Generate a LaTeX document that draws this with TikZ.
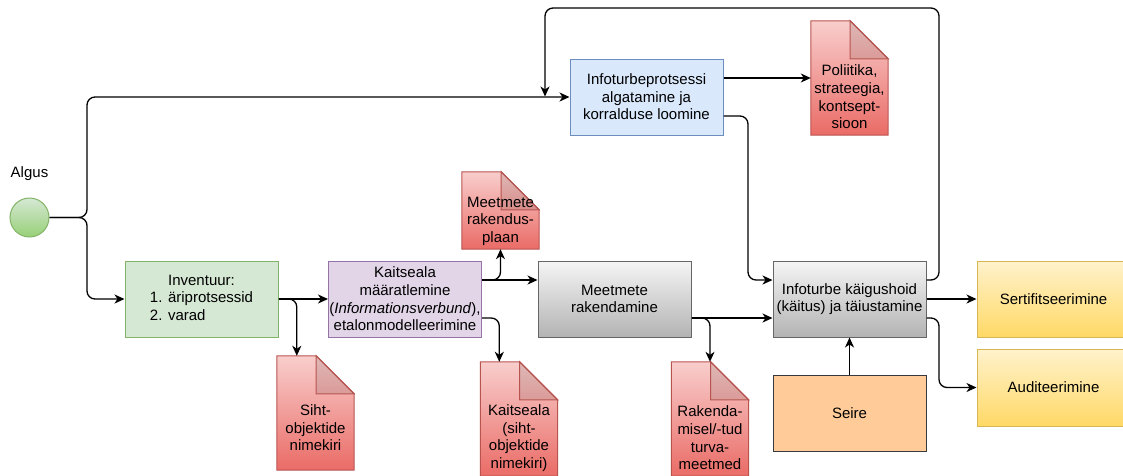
\documentclass[tikz,border=0pt]{standalone}
\usepackage{fontspec}
\setmainfont{Liberation Sans}
\usetikzlibrary{arrows.meta,backgrounds,calc}

\newcommand\boxfont{\fontsize{15}{17.6}\selectfont}

% colours of the flow chart
\definecolor{lineblack}{HTML}{000000}
\definecolor{blueF}{HTML}{DAE8FC}\definecolor{blueD}{HTML}{6C8EBF}
\definecolor{greenF}{HTML}{D5E8D4}\definecolor{greenD}{HTML}{82B366}\definecolor{greenB}{HTML}{97D077}
\definecolor{violetF}{HTML}{E1D5E7}\definecolor{violetD}{HTML}{9673A6}
\definecolor{greyT}{HTML}{F5F5F5}\definecolor{greyB}{HTML}{B3B3B3}\definecolor{greyD}{HTML}{666666}
\definecolor{redT}{HTML}{F8CECC}\definecolor{redB}{HTML}{EA6B66}\definecolor{redD}{HTML}{B85450}
\definecolor{yelT}{HTML}{FFF2CC}\definecolor{yelB}{HTML}{FFD966}\definecolor{yelD}{HTML}{D6B656}
\definecolor{orF}{HTML}{FFCC99}\definecolor{orD}{HTML}{36393D}

% paper sheet with a folded top right corner, drawn round a named node
\newcommand\docpaper[2][38]{%
  \path[docbody] (#2.north west) -- ([xshift=-#1pt]#2.north east)
    -- ([yshift=-#1pt]#2.north east) -- (#2.south east) -- (#2.south west) -- cycle;
  \path[docfold] ([xshift=-#1pt]#2.north east) -- ([xshift=-#1pt,yshift=-#1pt]#2.north east)
    -- ([yshift=-#1pt]#2.north east) -- cycle;}

\begin{document}
\begin{tikzpicture}[x=1pt,y=-1pt,
  box/.style={rectangle, minimum width=153pt, minimum height=76pt, inner sep=0pt,
    align=center, font=\boxfont, line width=1pt},
  bluebox/.style={box, fill=blueF, draw=blueD},
  greenbox/.style={box, fill=greenF, draw=greenD},
  violetbox/.style={box, fill=violetF, draw=violetD},
  greybox/.style={box, top color=greyT, bottom color=greyB, draw=greyD},
  yellowbox/.style={box, top color=yelT, bottom color=yelB, draw=yelD},
  orangebox/.style={box, fill=orF, draw=orD},
  docnode/.style={rectangle, minimum width=77pt, inner sep=0pt},
  doctext/.style={align=center, font=\boxfont, inner sep=0pt},
  docbody/.style={top color=redT, bottom color=redB, draw=redD, line width=1pt},
  docfold/.style={fill=black, fill opacity=0.1, draw=redD, line width=1pt},
  conn/.style={draw=lineblack, line width=1.3pt, rounded corners=8pt,
    -{Stealth[length=10pt,width=9pt,inset=3pt]}}]

\useasboundingbox (0,0) rectangle (1123,475);

% start event
\node[circle, minimum size=39pt, inner sep=0pt, top color=greenF, bottom color=greenB,
  draw=greenD, line width=1pt] (start) at (29.5,217.5) {};
\node[font=\boxfont, inner sep=0pt] (startlbl) at (29.5,174) {Algus};

% process steps
\node[bluebox] (init) at (646.5,97) {Infoturbeprotsessi\\algatamine ja\\korralduse loomine};
\node[greenbox] (inv) at (201.5,299)
  {Inventuur:\\1. äriprotsessid\\\rlap{2. varad}\phantom{1. äriprotsessid}};
\node[violetbox] (scope) at (405,299)
  {Kaitseala\\määratlemine\\(\textit{Informationsverbund}),\\etalonmodelleerimine};
\node[greybox] (impl) at (614.5,299) {Meetmete\\rakendamine};
\node[greybox] (ops) at (849.5,299) {Infoturbe käigushoid\\(käitus) ja täiustamine};
\node[orangebox] (mon) at (849.5,413) {Seire};
\node[yellowbox] (cert) at (1053.5,299) {Sertifitseerimine};
\node[yellowbox, minimum height=77pt] (audit) at (1053.5,387.5) {Auditeerimine};

% documents
\node[docnode, minimum height=114pt] (policy) at (849.5,78) {};
\node[docnode, minimum height=77pt] (plan) at (500.5,210.5) {};
\node[docnode, minimum height=114pt] (targets) at (315.5,413) {};
\node[docnode, minimum height=114pt] (scopedoc) at (519,419) {};
\node[docnode, minimum height=114pt] (measures) at (710,419) {};

\begin{scope}[on background layer]
  \docpaper{policy}
  \docpaper{plan}
  \docpaper{targets}
  \docpaper{scopedoc}
  \docpaper{measures}
\end{scope}

\node[doctext] (policytxt) at (849.5,97) {Poliitika,\\strateegia,\\kontsept-\\sioon};
\node[doctext] (plantxt) at (500.5,221) {Meetmete\\rakendus-\\plaan};
\node[doctext] (targetstxt) at (315.5,428) {Siht-\\objektide\\nimekiri};
\node[doctext] (scopedoctxt) at (519,438) {Kaitseala\\(siht-\\objektide\\nimekiri)};
\node[doctext] (measurestxt) at (710,438) {Rakenda-\\misel/-tud\\turva-\\meetmed};

% connectors
\draw[conn] (start.east) -- (87,217.5) |- (init.west);
\draw[conn] (start.east) -- (87,217.5) |- (inv.west);
\draw[conn] ([yshift=19pt]ops.east) -| (939,8) -| (545,96.5);
\draw[conn] ([yshift=19pt]init.east) -- (policy.west);
\draw[conn] ([yshift=-19pt]init.east) -| (748,200) |- ([yshift=19pt]ops.west);
\draw[conn] (inv.east) -- (scope.west);
\draw[conn] (inv.east) -| ([xshift=20pt]targets.north west);
\draw[conn] ([yshift=19pt]scope.east) -- ([yshift=19pt]impl.west);
\draw[conn] ([yshift=19pt]scope.east) -| (plan.south);
\draw[conn] ([yshift=-19pt]scope.east) -| ([xshift=19pt]scopedoc.north west);
\draw[conn] ([yshift=-19pt]impl.east) -- ([yshift=-19pt]ops.west);
\draw[conn] ([yshift=-19pt]impl.east) -| (measures.north);
\draw[conn] (mon.north) -- (ops.south);
\draw[conn] (ops.east) -- (cert.west);
\draw[conn] ([yshift=-19pt]ops.east) -| (939,350) |- (audit.west);
\end{tikzpicture}
\end{document}
